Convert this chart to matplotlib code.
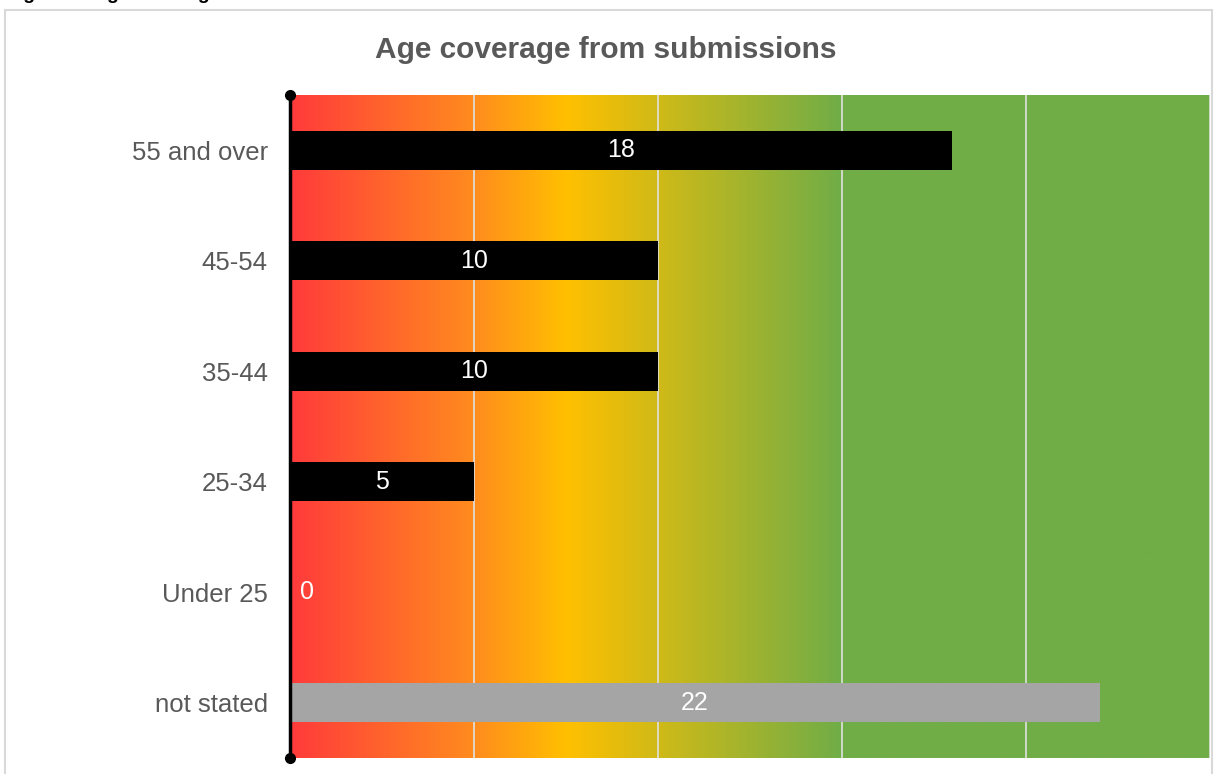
import matplotlib
matplotlib.use("Agg")
import matplotlib.pyplot as plt
import numpy as np
from matplotlib.colors import LinearSegmentedColormap
from matplotlib.patches import Rectangle

plt.rcParams['font.family'] = ['Liberation Sans', 'DejaVu Sans']

categories = ["55 and over", "45-54", "35-44", "25-34", "Under 25", "not stated"]
values = [18, 10, 10, 5, 0, 22]
bar_colors = ["#000000", "#000000", "#000000", "#000000", "#000000", "#A5A5A5"]
title = "Age coverage from submissions"
x_max = 25
grid_ticks = [5, 10, 15, 20, 25]

W, H = 1218, 774
fig = plt.figure(figsize=(W / 100, H / 100), dpi=100)

# outer chart frame
fig.patches.append(Rectangle((5 / W, -0.01), (1212 - 5) / W, 1 - 10 / H + 0.01,
                             transform=fig.transFigure, fill=False,
                             edgecolor="#D9D9D9", linewidth=1.5, zorder=0))

# cut-off caption at the very top
fig.text(6 / W, 1 + 1 / H, "Figure 5: Age coverage", fontsize=14, fontweight="bold",
         color="black", ha="left", va="baseline")

ax = fig.add_axes([290 / W, (H - 758) / H, (1210 - 290) / W, (758 - 95) / H])

# gradient background
cmap = LinearSegmentedColormap.from_list(
    "rg", [(0.0, "#FF3B3B"), (0.2, "#FF8C1E"), (0.3, "#FFC000"), (0.6, "#70AD47"), (1.0, "#70AD47")])
grad = np.linspace(0, 1, 512).reshape(1, -1)
ax.imshow(grad, aspect="auto", cmap=cmap, extent=[0, x_max, -0.5, len(categories) - 0.5],
          zorder=0, interpolation="bilinear")

ypos = np.arange(len(categories))[::-1]
for gx in grid_ticks:
    ax.axvline(gx, color="#E0E0E0", linewidth=1.2, zorder=1)

ax.barh(ypos, values, height=0.35, color=bar_colors, zorder=2)
for y, v in zip(ypos, values):
    xt = v / 2 if v > 0 else 0.47
    ax.text(xt, y, str(v), color="white", fontsize=18, ha="center", va="center", zorder=3)

ax.set_xlim(0, x_max)
ax.set_ylim(-0.5, len(categories) - 0.5)
ax.set_yticks(ypos)
ax.set_yticklabels(categories, fontsize=18.5, color="#595959")
ax.tick_params(axis="y", length=0, pad=16)
ax.set_xticks([])
for s in ["top", "right", "bottom", "left"]:
    ax.spines[s].set_visible(False)

# left axis line with round end dots
ax.plot([0, 0], [-0.5, len(categories) - 0.5], color="black", linewidth=2.5,
        clip_on=False, zorder=4, solid_capstyle="butt")
ax.plot([0, 0], [-0.5, len(categories) - 0.5], "o", color="black", markersize=7,
        clip_on=False, zorder=5)

fig.text(606 / W, 1 - 50 / H, title, fontsize=21.5, fontweight="bold", color="#595959",
         ha="center", va="center")

fig.savefig("out.png", dpi=100)
